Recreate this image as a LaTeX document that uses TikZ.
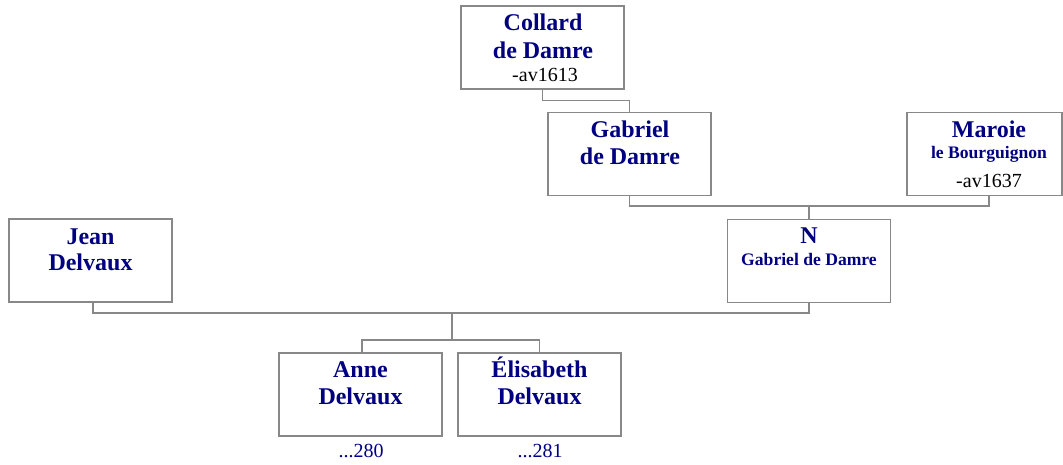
\documentclass[tikz,border=0pt]{standalone}
\usepackage{fontspec}
\setmainfont{Liberation Serif}
\definecolor{nv}{RGB}{0,0,128}
\definecolor{ln}{RGB}{136,136,136}
\begin{document}
\begin{tikzpicture}[x=0.75pt,y=-0.75pt,
 box/.style={draw=ln,line width=1.2pt,rectangle,inner sep=0,minimum width=122.25pt,minimum height=62.25pt},
 conn/.style={draw=ln,line width=1.1pt},
 nm/.style={anchor=base,inner sep=0,text=nv,font=\fontsize{18}{18}\selectfont\bfseries},
 sm/.style={anchor=base,inner sep=0,text=nv,font=\fontsize{13.2}{13.2}\selectfont\bfseries},
 dt/.style={anchor=base,inner sep=0,text=black,font=\fontsize{15}{15}\selectfont},
 num/.style={anchor=base,inner sep=0,text=nv,font=\fontsize{15}{15}\selectfont}]
\useasboundingbox (0,0) rectangle (1063,464);
% boxes
\node[box] (collard) at (542.5,47.5) {};
\node[box] (gabriel) at (629.5,154) {};
\node[box,minimum width=116.25pt] (maroie) at (984.5,154) {};
\node[box] (N) at (809,261) {};
\node[box] (jean) at (90.5,260.5) {};
\node[box] (anne) at (360.5,394.5) {};
\node[box] (elis) at (539.5,394.5) {};
% texts
\node[nm] (collard1) at (543,30) {Collard};
\node[nm] (collard2) at (543,58) {de Damre};
\node[dt] (collard3) at (545,81) {-av1613};
\node[nm] (gabriel1) at (630,137) {Gabriel};
\node[nm] (gabriel2) at (630,164) {de Damre};
\node[nm] (maroie1) at (989,137) {Maroie};
\node[sm] (maroie2) at (989,158) {le Bourguignon};
\node[dt] (maroie3) at (989,187) {-av1637};
\node[nm] (N1) at (809,243) {N};
\node[sm] (N2) at (809,265) {Gabriel de Damre};
\node[nm] (jean1) at (90.5,244) {Jean};
\node[nm] (jean2) at (90.5,270) {Delvaux};
\node[nm] (anne1) at (360.5,377) {Anne};
\node[nm] (anne2) at (360.5,404) {Delvaux};
\node[num] (anne3) at (361,457) {...280};
\node[nm] (elis1) at (539.5,377) {Élisabeth};
\node[nm] (elis2) at (539.5,404) {Delvaux};
\node[num] (elis3) at (540,457) {...281};
% connectors
\coordinate (mA) at (989,195.5);
\coordinate (gm) at (809,206);
\coordinate (jA) at (93,302);
\coordinate (jn) at (452,313);
\coordinate (sib) at (452,340);
\coordinate (aA) at (362,353);
\draw[conn] (collard.south) -- ++(0,10.5) -| (gabriel.north);
\draw[conn] (gabriel.south) |- (gm) -| (mA);
\draw[conn] (gm) -- (N.north);
\draw[conn] (jA) |- (jn) -| (N.south);
\draw[conn] (jn) -- (sib);
\draw[conn] (aA) |- (sib) -| (elis.north);
\end{tikzpicture}
\end{document}
